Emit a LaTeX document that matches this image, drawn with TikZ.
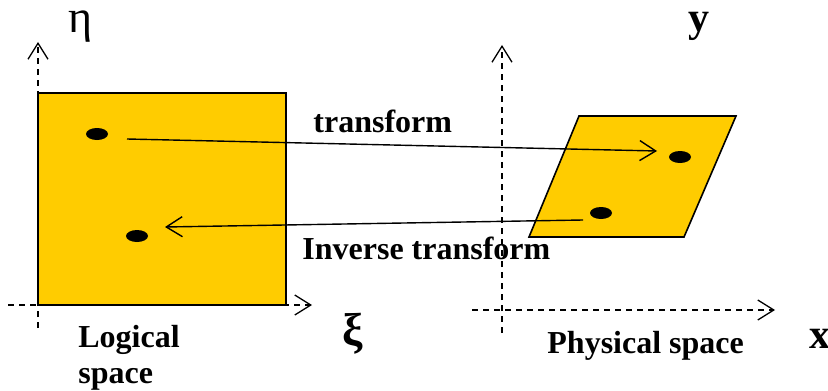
\documentclass[tikz,border=0pt]{standalone}
\usepackage{fontspec}
\setmainfont{Liberation Serif}
\usetikzlibrary{arrows.meta,shapes.geometric}
\definecolor{gold}{HTML}{FFCC00}

\begin{document}
\begin{tikzpicture}[x=0.5pt, y=-0.5pt, >={Straight Barb[length=8pt,width=10pt]},
    axis/.style={dash pattern=on 3pt off 2.5pt, line width=0.65pt},
    dot/.style={ellipse, fill=black, minimum width=11pt, minimum height=6pt, inner sep=0pt},
    lbl/.style={anchor=base west, inner sep=0pt, font=\fontsize{16}{18}\selectfont\bfseries},
    ax/.style={inner sep=0pt, font=\fontsize{21}{24}\selectfont\bfseries},
    gr/.style={inner sep=0pt, anchor=base, font=\fontsize{23}{26}\selectfont}]
  \useasboundingbox (0,0) rectangle (828,390);

  % logical space: unit square in (xi,eta)
  \draw[axis,->] (38,328) -- (38,42);
  \draw[axis,->] (8,305) -- (312,305);
  \filldraw[fill=gold, line width=0.8pt] (38,93) rectangle (286,305);

  % physical space: the mapped cell
  \draw[axis,->] (502,333) -- (502,45);
  \draw[axis,->] (472,310) -- (775,310);
  \filldraw[fill=gold, line width=0.8pt] (579,116) -- (736,116) -- (684,237) -- (529,237) -- cycle;

  \node[dot] (p1) at (97,134) {};
  \node[dot] (p2) at (137,236) {};
  \node[dot] (q1) at (680,157) {};
  \node[dot] (q2) at (601,213) {};

  \coordinate (p1r) at (127,139);
  \coordinate (q1l) at (657,151);
  \coordinate (q2l) at (583,220);
  \coordinate (p2r) at (165,227);
  \draw[->, line width=0.7pt] (p1r) -- (q1l);
  \draw[->, line width=0.7pt] (q2l) -- (p2r);

  \node[lbl] (tf) at (313,133) {transform};
  \node[lbl] (itf) at (302,259) {Inverse transform};
  \node[lbl] (log1) at (78,347) {Logical};
  \node[lbl] (log2) at (78,383) {space};
  \node[lbl] (phys) at (547,353) {Physical space};

  \node[gr] (eta) at (81,33) {η};
  \node[gr, font=\fontsize{23}{26}\selectfont\bfseries] (xi) at (353,345) {ξ};
  \node[ax, anchor=base west] (ylab) at (688,32) {y};
  \node[ax, anchor=base west] (xlab) at (809,348) {x};
\end{tikzpicture}
\end{document}
